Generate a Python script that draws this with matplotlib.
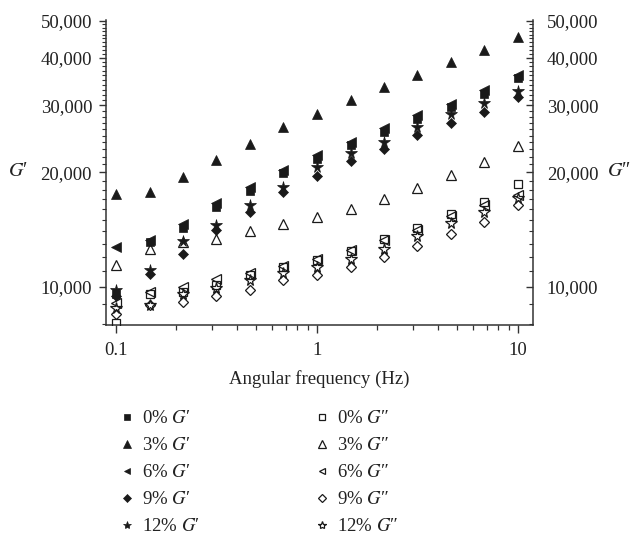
import matplotlib
matplotlib.use('Agg')
import matplotlib.pyplot as plt
from matplotlib.ticker import FixedLocator, FuncFormatter, NullFormatter

plt.rcParams['font.family'] = ['Liberation Serif', 'DejaVu Serif']
plt.rcParams['mathtext.fontset'] = 'stix'

# ---------------- data ----------------
freq = [0.1, 0.147, 0.215, 0.316, 0.464, 0.681, 1.0, 1.47, 2.15, 3.16, 4.64, 6.81, 10.0]

g1_0 = [9580, 13100, 14300, 16200, 17900, 19900, 21700, 23600, 25600, 27700, 29700, 32200, 35400]
g1_3 = [17540, 17750, 19400, 21630, 23720, 26300, 28520, 31030, 33630, 35990, 39080, 41910, 45480]
g1_6 = [12750, 13300, 14600, 16600, 18300, 20300, 22200, 24100, 26100, 28300, 30300, 32900, 36100]
g1_9 = [9450, 10840, 12220, 14090, 15790, 17810, 19570, 21380, 23020, 25050, 27030, 28800, 31530]
g1_12 = [9800, 11120, 13190, 14520, 16440, 18350, 20630, 22440, 24040, 26330, 28410, 30480, 32690]

g2_0 = [8070, 9570, 9700, 10100, 10750, 11300, 11800, 12450, 13350, 14290, 15570, 16770, 18640]
g2_3 = [11400, 12600, 13100, 13380, 14070, 14670, 15260, 16050, 17020, 18170, 19680, 21340, 23420]
g2_6 = [9100, 9730, 10020, 10470, 10900, 11350, 11860, 12490, 13260, 14150, 15380, 16440, 17450]
g2_9 = [8480, 8970, 9160, 9470, 9800, 10410, 10750, 11300, 11980, 12800, 13810, 14780, 16440]
g2_12 = [8830, 8970, 9570, 9960, 10430, 10900, 11300, 11880, 12600, 13590, 14720, 15700, 17130]

labels_g1 = ["0% $G$\u2032", "3% $G$\u2032", "6% $G$\u2032", "9% $G$\u2032", "12% $G$\u2032"]
labels_g2 = ["0% $G$\u2033", "3% $G$\u2033", "6% $G$\u2033", "9% $G$\u2033", "12% $G$\u2033"]

y_major = [10000, 20000, 30000, 40000, 50000]
x_major = [0.1, 1, 10]
x_major_labels = ["0.1", "1", "10"]

# ---------------- figure ----------------
fig = plt.figure(figsize=(6.34, 5.36), dpi=100)
ax = fig.add_axes([0.1672, 0.3937, 0.6735, 0.569])

ink = '#1a1a1a'
markers = ['s', '^', '<', 'D', '*']
sizes = [5.5, 7.5, 7.0, 5.2, 8.5]

series_g1 = [g1_0, g1_3, g1_6, g1_9, g1_12]
series_g2 = [g2_0, g2_3, g2_6, g2_9, g2_12]

handles1, handles2 = [], []
for vals, m, s, lab in zip(series_g2, markers, sizes, labels_g2):
    h, = ax.plot(freq, vals, linestyle='none', marker=m, markersize=s,
                 markerfacecolor='none', markeredgecolor=ink, markeredgewidth=0.9,
                 label=lab, zorder=3)
    handles2.append(h)
for vals, m, s, lab in zip(series_g1, markers, sizes, labels_g1):
    h, = ax.plot(freq, vals, linestyle='none', marker=m, markersize=s,
                 markerfacecolor=ink, markeredgecolor=ink, markeredgewidth=0.5,
                 label=lab, zorder=4)
    handles1.append(h)

ax.set_xscale('log')
ax.set_yscale('log')
ax.set_xlim(0.0892, 11.9)
ax.set_ylim(7950, 50300)

ax2 = ax.twinx()
ax2.set_yscale('log')
ax2.set_ylim(ax.get_ylim())

y_minor = [v for v in range(8000, 50001, 1000) if v not in y_major]
fmt = FuncFormatter(lambda v, p: f'{v:,.0f}')
for a in (ax, ax2):
    a.yaxis.set_major_locator(FixedLocator(y_major))
    a.yaxis.set_minor_locator(FixedLocator(y_minor))
    a.yaxis.set_major_formatter(fmt)
    a.yaxis.set_minor_formatter(NullFormatter())
    for sp in a.spines.values():
        sp.set_color('#333333')
        sp.set_linewidth(1.1)
    a.spines['top'].set_visible(False)

ax.spines['right'].set_visible(False)
ax2.spines['left'].set_visible(False)
ax2.spines['bottom'].set_visible(False)

x_minor = [k * 10.0 ** e for e in (-1, 0) for k in range(2, 10)]
ax.xaxis.set_major_locator(FixedLocator(x_major))
ax.xaxis.set_major_formatter(FuncFormatter(lambda v, p: x_major_labels[x_major.index(min(x_major, key=lambda t: abs(t - v)))]))
ax.xaxis.set_minor_locator(FixedLocator(x_minor))
ax.xaxis.set_minor_formatter(NullFormatter())

fs = 13.5
ax.tick_params(axis='x', which='major', direction='out', length=6, width=1.0, colors='#333333',
               labelcolor='#222222', labelsize=fs, pad=6, top=False)
ax.tick_params(axis='x', which='minor', direction='out', length=3.5, width=0.9, colors='#333333', top=False)
ax.tick_params(axis='y', which='major', direction='out', length=5, width=1.0, colors='#333333',
               labelcolor='#222222', labelsize=fs, pad=5, right=False)
ax.tick_params(axis='y', which='minor', direction='out', length=3, width=0.8, colors='#333333', right=False)
ax2.tick_params(axis='y', which='major', direction='in', length=5, width=1.0, colors='#333333',
                labelcolor='#222222', labelsize=fs, pad=10)
ax2.tick_params(axis='y', which='minor', direction='in', length=3, width=0.8, colors='#333333')

ax.set_xlabel('Angular frequency (Hz)', fontsize=fs, color='#222222', labelpad=8)

fig.text(18 / 634, 1 - 172 / 536, "$G$\u2032", ha='center', va='center', fontsize=14.5, color='#222222')
fig.text(619 / 634, 1 - 172 / 536, "$G$\u2033", ha='center', va='center', fontsize=14.5, color='#222222')

leg = fig.legend(handles1 + handles2, labels_g1 + labels_g2, ncol=2, loc='upper left',
                 bbox_to_anchor=(119.5 / 634, 1 - 410 / 536), frameon=False, fontsize=fs,
                 markerscale=0.7, handlelength=0.8, handletextpad=0.4, columnspacing=6.1,
                 labelspacing=0.53, borderpad=0, borderaxespad=0)
for t in leg.get_texts():
    t.set_color('#222222')

fig.savefig('out.png', dpi=100)
